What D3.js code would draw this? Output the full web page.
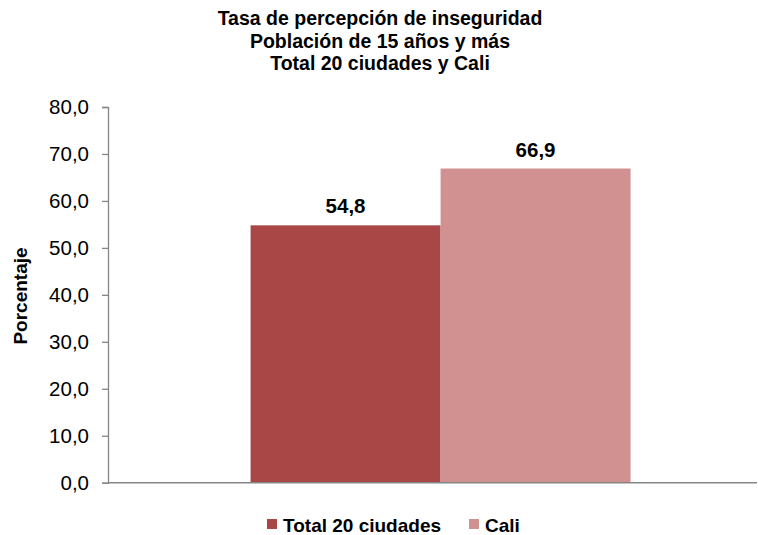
<!DOCTYPE html>
<meta charset="utf-8">
<script src="https://cdn.jsdelivr.net/npm/d3@7"></script>
<style>
  body { margin: 0; background: #fff; }
  text { font-family: "Liberation Sans", Arial, sans-serif; }
</style>
<body>
<div id="chart"></div>
<script>
  // data
  const categories = ["Tasa de percepción de inseguridad"];
  const seriesNames = ["Total 20 ciudades", "Cali"];
  const seriesValues = [54.8, 66.9];
  const seriesColors = ["#a84745", "#d29191"];
  const yTicks = [0, 10, 20, 30, 40, 50, 60, 70, 80];
  const titleLines = ["Tasa de percepción de inseguridad", "Población de 15 años y más", "Total 20 ciudades y Cali"];

  const width = 758, height = 535;
  const margin = {top: 107, right: 1, bottom: 52, left: 108};

  const svg = d3.select("#chart").append("svg")
    .attr("width", width)
    .attr("height", height);

  const y = d3.scaleLinear()
    .domain([0, 80])
    .range([height - margin.bottom - 0.3, margin.top]);

  // one category band, then the two series inside it
  const x0 = d3.scaleBand()
    .domain(categories)
    .range([margin.left, width - margin.right])
    .paddingInner(0)
    .paddingOuter(0.354)
    .align(0.53);

  const x1 = d3.scaleBand()
    .domain(seriesNames)
    .range([0, x0.bandwidth()]);

  const fmt = v => d3.format(".1f")(v).replace(".", ",");

  // y axis
  const yAxis = svg.append("g")
    .attr("transform", `translate(${margin.left},0)`)
    .call(d3.axisLeft(y).tickValues(yTicks).tickSize(6).tickPadding(13).tickFormat(fmt));
  yAxis.select(".domain").attr("stroke", "#868686").attr("stroke-width", 1.3);
  yAxis.selectAll(".tick line").attr("stroke", "#868686").attr("stroke-width", 1.3);
  yAxis.selectAll(".tick text")
    .attr("fill", "#000")
    .style("font-size", "20.5px")
    .style("font-family", "'Liberation Sans', Arial, sans-serif");

  // bars
  const g = svg.append("g")
    .attr("transform", `translate(${x0(categories[0])},0)`);

  g.selectAll("rect")
    .data(seriesValues)
    .join("rect")
    .attr("x", (d, i) => x1(seriesNames[i]))
    .attr("y", d => y(d))
    .attr("width", x1.bandwidth())
    .attr("height", d => y(0) - y(d))
    .attr("fill", (d, i) => seriesColors[i]);

  g.selectAll("text.val")
    .data(seriesValues)
    .join("text")
    .attr("class", "val")
    .attr("x", (d, i) => x1(seriesNames[i]) + x1.bandwidth() / 2)
    .attr("y", d => y(d) - 12)
    .attr("text-anchor", "middle")
    .style("font-size", "20.5px")
    .style("font-weight", "bold")
    .text(d => fmt(d));

  // x axis line
  svg.append("line")
    .attr("x1", margin.left)
    .attr("x2", width - margin.right)
    .attr("y1", y(0))
    .attr("y2", y(0))
    .attr("stroke", "#868686")
    .attr("stroke-width", 1.5);

  // title
  svg.append("text")
    .attr("x", 380)
    .attr("y", 25)
    .attr("text-anchor", "middle")
    .style("font-size", "19.5px")
    .style("font-weight", "bold")
    .selectAll("tspan")
    .data(titleLines)
    .join("tspan")
    .attr("x", 380)
    .attr("dy", (d, i) => i === 0 ? 0 : 22.5)
    .text(d => d);

  // y label
  svg.append("text")
    .attr("transform", `translate(27,296) rotate(-90)`)
    .attr("text-anchor", "middle")
    .style("font-size", "19px")
    .style("font-weight", "bold")
    .text("Porcentaje");

  // legend
  const legendX = [267, 469];
  const legend = svg.append("g")
    .selectAll("g")
    .data(seriesNames)
    .join("g")
    .attr("transform", (d, i) => `translate(${legendX[i]},519)`);

  legend.append("rect")
    .attr("width", 10)
    .attr("height", 10)
    .attr("fill", (d, i) => seriesColors[i]);

  legend.append("text")
    .attr("x", 16)
    .attr("y", 13)
    .style("font-size", "19px")
    .style("font-weight", "bold")
    .text(d => d);
</script>
</body>
